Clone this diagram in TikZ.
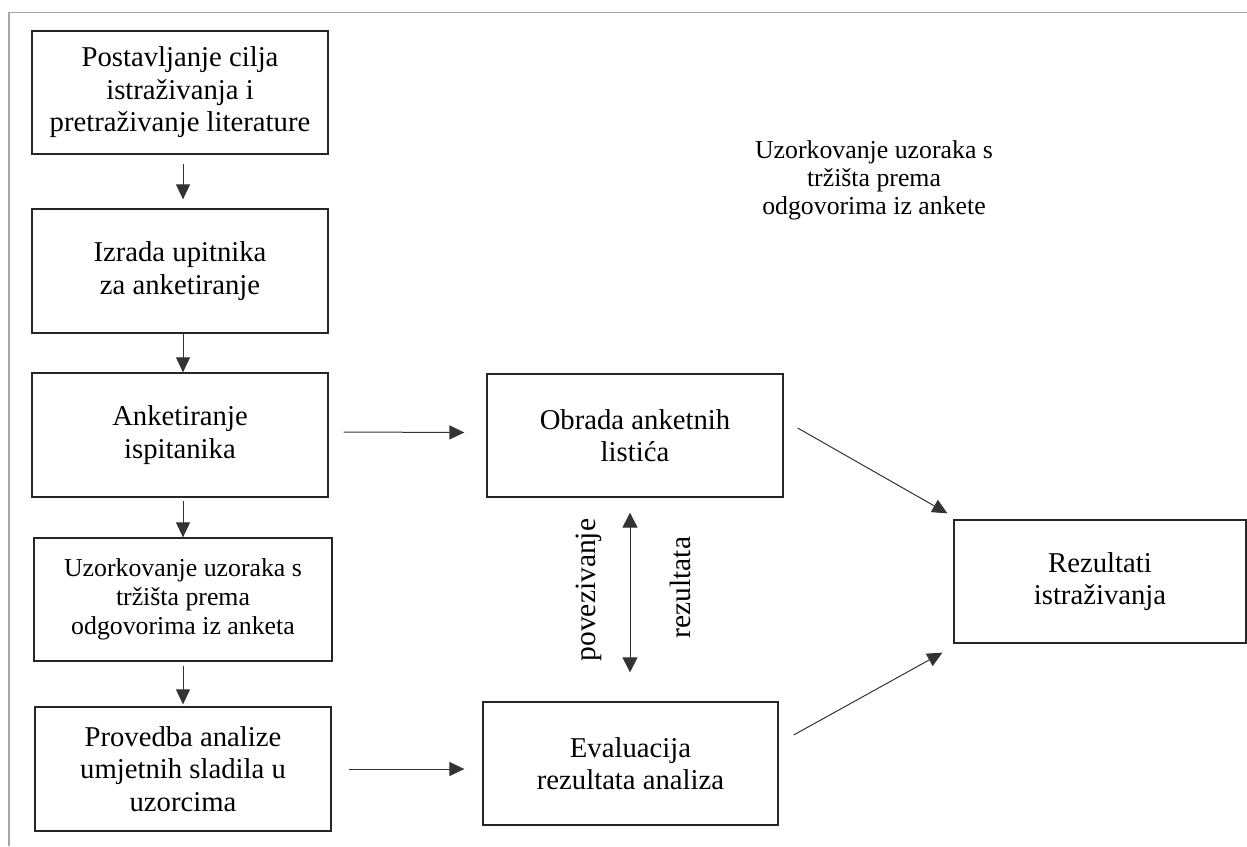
\documentclass[tikz,border=0pt]{standalone}
\usepackage{fontspec}
\setmainfont{Liberation Serif}
\usetikzlibrary{arrows.meta}
\begin{document}
\begin{tikzpicture}[x=1pt,y=-1pt,
  box/.style={draw=black!85, line width=1.3pt, rectangle, align=center, inner sep=0pt,
    font=\fontsize{28.7}{32.5}\selectfont},
  smallbox/.style={box, font=\fontsize{25.8}{28.8}\selectfont},
  arr/.style={draw=black!80, line width=1pt, -{Triangle[width=14pt,length=15pt]}},
  darr/.style={draw=black!80, line width=1pt, {Triangle[width=15pt,length=15pt]}-{Triangle[width=15pt,length=15pt]}},
  lbl/.style={align=center, inner sep=0pt, font=\fontsize{28.7}{32.5}\selectfont},
  frame/.style={draw=black!35, line width=1.2pt}
]
\useasboundingbox (0,0) rectangle (1247,846);
% frame
\coordinate (fa) at (9,846);
\coordinate (fb) at (9,12.5);
\coordinate (fc) at (1247,12.5);
\draw[frame] (fa) -- (fb) -- (fc);

% boxes
\node[box, minimum width=296pt, minimum height=123pt] (b1) at (180,92.5)
  {Postavljanje cilja\\istraživanja i\\pretraživanje literature};
\node[box, minimum width=296pt, minimum height=124pt] (b2) at (180,271)
  {Izrada upitnika\\za anketiranje};
\node[box, minimum width=296pt, minimum height=124pt] (b3) at (180,435)
  {Anketiranje\\ispitanika};
\node[smallbox, minimum width=298pt, minimum height=123pt] (b4) at (183,599.5)
  {Uzorkovanje uzoraka s\\tržišta prema\\odgovorima iz anketa};
\node[box, minimum width=296pt, minimum height=124pt] (b5) at (183,769)
  {Provedba analize\\umjetnih sladila u\\uzorcima};
\node[box, minimum width=296pt, minimum height=123pt] (ob) at (635,435.5)
  {Obrada anketnih\\listića};
\node[box, minimum width=295pt, minimum height=123pt] (ev) at (630.5,763.5)
  {Evaluacija\\rezultata analiza};
\node[box, minimum width=292pt, minimum height=123pt] (rz) at (1100,581.5)
  {Rezultati\\istraživanja};

% free text
\node[lbl, font=\fontsize{25.8}{28}\selectfont] (ft) at (874,180)
  {Uzorkovanje uzoraka s\\tržišta prema\\odgovorima iz ankete};
\node[lbl, rotate=90, font=\fontsize{29.5}{32}\selectfont] (pov) at (589,590) {povezivanje};
\node[lbl, rotate=90, font=\fontsize{29.5}{32}\selectfont] (rez) at (680,587.5) {rezultata};

% connectors
\draw[arr] ([shift={(3,9)}]b1.south) -- ([shift={(3,-9)}]b2.north);
\draw[arr] ([shift={(3,0)}]b2.south) -- ([shift={(3,0)}]b3.north);
\draw[arr] ([shift={(3,3)}]b3.south) -- (b4.north);
\draw[arr] ([shift={(0,4)}]b4.south) -- ([shift={(0,-2)}]b5.north);
\draw[arr] ([shift={(15,-3)}]b3.east) -- ([shift={(-22,-3)}]ob.west);
\draw[arr] ([shift={(17,0)}]b5.east) -- ([shift={(-18,5.5)}]ev.west);
\draw[arr] ([shift={(14,-7.5)}]ob.east) -- ([shift={(-6,-6)}]rz.north west);
\draw[arr] ([shift={(15,-28.5)}]ev.east) -- ([shift={(-11,9)}]rz.south west);
\draw[darr] ([shift={(-5,15)}]ob.south) -- ([shift={(-0.5,-29)}]ev.north);
\end{tikzpicture}
\end{document}
